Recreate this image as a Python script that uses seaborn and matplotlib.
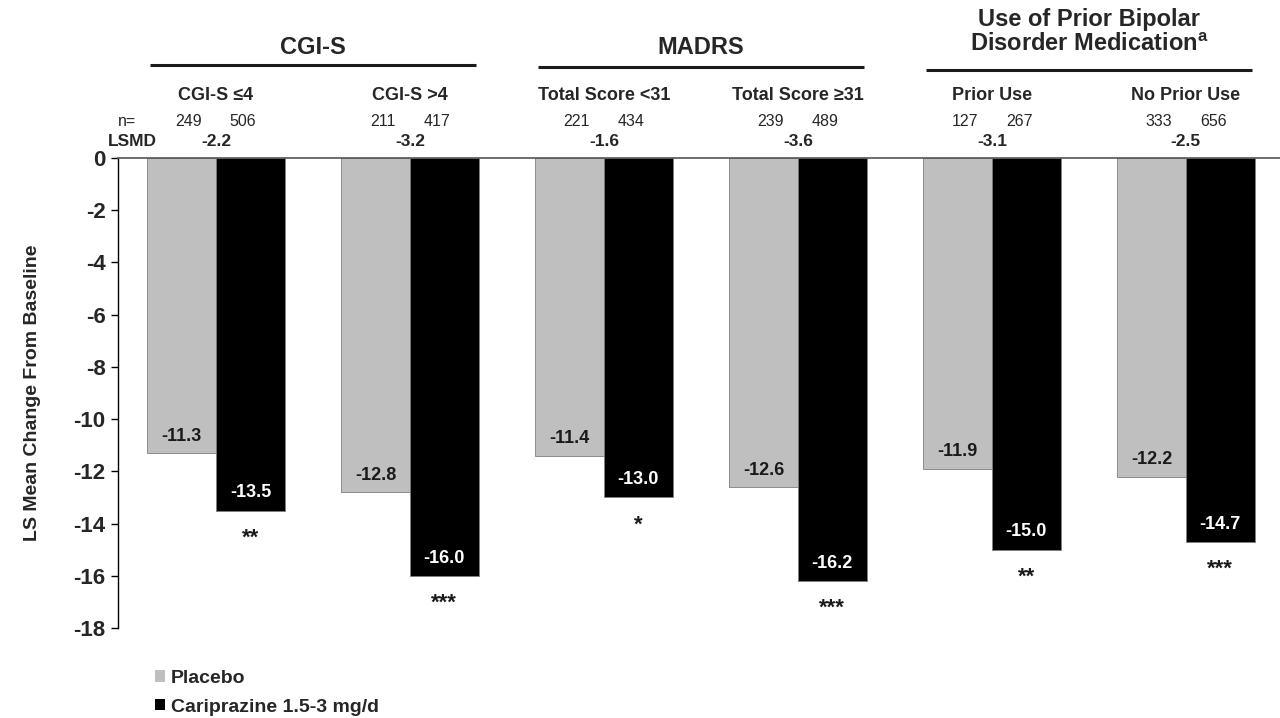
import matplotlib
matplotlib.use("Agg")
import matplotlib.pyplot as plt
import seaborn as sns
import pandas as pd
from matplotlib.patches import Patch

# Data
subgroups = ["CGI-S \u22644", "CGI-S >4", "Total Score <31", "Total Score \u226531",
             "Prior Use", "No Prior Use"]
placebo = [-11.3, -12.8, -11.4, -12.6, -11.9, -12.2]
cariprazine = [-13.5, -16.0, -13.0, -16.2, -15.0, -14.7]
n_placebo = [249, 211, 221, 239, 127, 333]
n_cariprazine = [506, 417, 434, 489, 267, 656]
lsmd = ["-2.2", "-3.2", "-1.6", "-3.6", "-3.1", "-2.5"]
stars = ["**", "***", "*", "***", "**", "***"]
group_titles = ["CGI-S", "MADRS", "Use of Prior Bipolar\nDisorder Medication$^{\\mathregular{a}}$"]
treatments = ["Placebo", "Cariprazine 1.5-3 mg/d"]
colors = ["#BFBFBF", "#000000"]

df = pd.DataFrame({
    "subgroup": subgroups * 2,
    "treatment": [treatments[0]] * 6 + [treatments[1]] * 6,
    "value": placebo + cariprazine,
})

sns.set_theme(style="white")
plt.rcParams["font.family"] = ["Liberation Sans", "DejaVu Sans"]

fig = plt.figure(figsize=(12.8, 7.18), dpi=100)
W, H = 1280, 718
ax_left, ax_top, ax_bottom = 118, 158, 628
ax = fig.add_axes([ax_left / W, 1 - ax_bottom / H, 1 - ax_left / W, (ax_bottom - ax_top) / H])

sns.barplot(data=df, x="subgroup", y="value", hue="treatment", order=subgroups,
            hue_order=treatments, palette=colors, width=0.71, gap=0,
            saturation=1, linewidth=0.6, edgecolor="#7f7f7f", legend=False, ax=ax)

ax.set_ylim(-18, 0)
ax.set_xlim(-0.505, 5.485)
ax.set_yticks(range(-18, 1, 2))
ax.set_yticklabels([str(v) for v in range(-18, 1, 2)], fontsize=16, fontweight="bold")
ax.tick_params(axis="y", which="both", left=True, length=5, width=1, color="black", pad=4)
ax.set_xticks([])
ax.set_xlabel("")
ax.set_ylabel("LS Mean Change From Baseline", fontsize=14, fontweight="bold", labelpad=23)

for side in ["right", "bottom"]:
    ax.spines[side].set_visible(False)
ax.spines["left"].set_color("black")
ax.spines["left"].set_linewidth(1)
ax.spines["top"].set_color("#555555")
ax.spines["top"].set_linewidth(1.2)

off = 0.71 / 4
# value labels inside bars and significance stars
for i in range(6):
    ax.text(i - off, placebo[i] + 0.65, f"{placebo[i]:.1f}", ha="center", va="center",
            fontsize=13, fontweight="bold", color="#1a1a1a")
    ax.text(i + off, cariprazine[i] + 0.68, f"{cariprazine[i]:.1f}", ha="center", va="center",
            fontsize=13, fontweight="bold", color="white")
    ax.text(i + off, cariprazine[i] - 1.05, stars[i], ha="center", va="center",
            fontsize=16, fontweight="bold", color="#1a1a1a")


def fy(pix):
    return 1 + (ax_top - pix) / (ax_bottom - ax_top)


xt = ax.get_xaxis_transform()
n_off = 0.14
for i in range(6):
    ax.text(i, fy(95), subgroups[i], transform=xt, ha="center", va="center",
            fontsize=13, fontweight="bold", clip_on=False)
    ax.text(i - n_off, fy(122), str(n_placebo[i]), transform=xt, ha="center", va="center",
            fontsize=11.5, clip_on=False)
    ax.text(i + n_off, fy(122), str(n_cariprazine[i]), transform=xt, ha="center", va="center",
            fontsize=11.5, clip_on=False)
    ax.text(i, fy(141), lsmd[i], transform=xt, ha="center", va="center",
            fontsize=12.5, fontweight="bold", clip_on=False)

ax.text(-0.459, fy(122), "n=", transform=xt, ha="center", va="center",
        fontsize=11.5, clip_on=False)
ax.text(-0.433, fy(141), "LSMD", transform=xt, ha="center", va="center",
        fontsize=12.5, fontweight="bold", clip_on=False)

title_y = [48, 47, 32]
line_y = [65, 67, 70]
for g in range(3):
    c = 2 * g + 0.5
    ax.text(c, fy(title_y[g]), group_titles[g], transform=xt, ha="center", va="center",
            fontsize=17, fontweight="bold", clip_on=False, linespacing=1.15)
    ax.plot([c - 0.84, c + 0.84], [fy(line_y[g])] * 2, transform=xt, color="#1a1a1a",
            lw=2.2, clip_on=False, solid_capstyle="butt")

handles = [Patch(facecolor=colors[0], edgecolor="none"), Patch(facecolor=colors[1], edgecolor="none")]
fig.legend(handles, treatments, loc="upper left", bbox_to_anchor=(155 / W, 1 - 670 / H),
           frameon=False, handlelength=0.52, handleheight=0.52, handletextpad=0.28,
           labelspacing=0.6, borderaxespad=0, borderpad=0, prop={"weight": "bold", "size": 14})

fig.savefig("out.png", dpi=100)
